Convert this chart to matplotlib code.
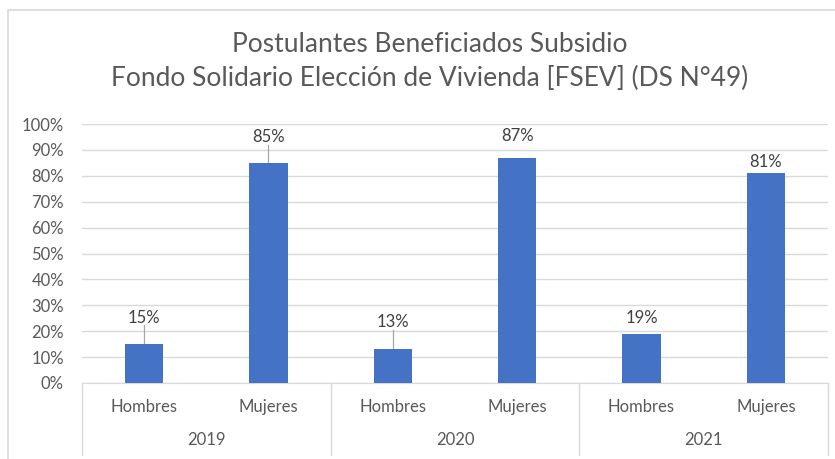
import numpy as np
import matplotlib.pyplot as plt
from matplotlib.patches import Rectangle
import matplotlib.transforms as mtransforms

# data
years = ["2019", "2020", "2021"]
sexes = ["Hombres", "Mujeres"]
values = [15, 85, 13, 87, 19, 81]  # percent, order: year x sex
labels = ["15%", "85%", "13%", "87%", "19%", "81%"]

# where Excel left each data label (percent units) and which ones got a leader line
label_y = [25.2, 95.0, 23.6, 95.3, 25.2, 85.3]
leader = [True, True, True, False, False, False]

GRAY = "#595959"
BAR = "#4472C4"
GRID = "#d9d9d9"

plt.rcParams['font.family'] = ['Lato', 'DejaVu Sans']

fig = plt.figure(figsize=(8.35, 4.59), dpi=100)
ax = fig.add_axes([0.0982, 0.1656, 0.8934, 0.5642])

# chart frame
fig.patches.append(Rectangle((0.0096, -0.1), 1.2, 0.978 + 0.1,
                             transform=fig.transFigure, fill=False,
                             edgecolor=GRID, lw=1.2, zorder=0))

x = np.arange(len(values))
ax.bar(x, values, width=0.31, color=BAR, zorder=3)

for xi, v, lab, ly, ld in zip(x, values, labels, label_y, leader):
    ax.text(xi, ly, lab, ha="center", va="center", fontsize=12, color="#404040")
    if ld:
        ax.plot([xi, xi], [ly - 3.0, v], color="#a6a6a6", lw=0.9, zorder=2)

ax.set_xlim(-0.5, len(values) - 0.5)
ax.set_ylim(0, 100)
ax.set_yticks(np.arange(0, 101, 10))
ax.set_yticklabels(["%d%%" % t for t in range(0, 101, 10)])
ax.tick_params(axis="y", length=0, pad=13, labelsize=12, labelcolor=GRAY)
ax.tick_params(axis="x", length=0, bottom=False, labelbottom=False)
ax.grid(axis="y", color=GRID, lw=1, zorder=0)
for s in ["top", "right", "left"]:
    ax.spines[s].set_visible(False)
ax.spines["bottom"].set_color(GRID)

# two-level category axis
trans = mtransforms.blended_transform_factory(ax.transData, ax.transAxes)
px = 1.0 / 258.0  # axes fraction per pixel of height
for i, yr in enumerate(years):
    for j, sx in enumerate(sexes):
        k = i * len(sexes) + j
        ax.text(k, -24 * px, sx, transform=trans, ha="center", va="center",
                fontsize=12, color=GRAY)
    ax.text(i * 2 + 0.5, -57 * px, yr, transform=trans, ha="center",
            va="center", fontsize=12, color=GRAY)
for b in np.arange(-0.5, len(values), 2):
    ax.plot([b, b], [0, -72 * px], transform=trans, color=GRID, lw=1,
            clip_on=False)

fig.text(0.515, 0.902, "Postulantes Beneficiados Subsidio", ha="center",
         va="center", fontsize=19, color=GRAY)
fig.text(0.515, 0.830, "Fondo Solidario Elección de Vivienda [FSEV] (DS N°49)",
         ha="center", va="center", fontsize=19, color=GRAY)

fig.savefig("out.png", dpi=100)
